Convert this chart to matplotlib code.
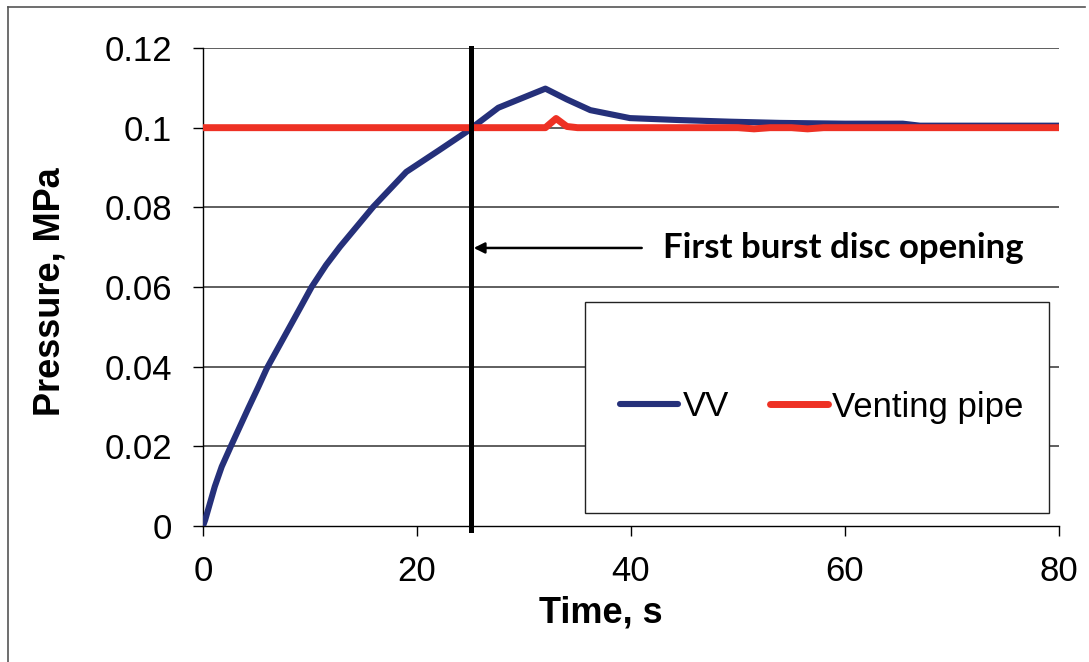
import matplotlib
matplotlib.use("Agg")
import matplotlib.pyplot as plt
from matplotlib.lines import Line2D
from matplotlib.patches import Rectangle

# ---- data ----
vv_time = [0, 0.2, 1.1, 1.75, 2.6, 3.3, 4.24, 5.17, 5.95, 7.2, 9.07, 10.15, 11.5,
           12.8, 15.9, 19.0, 22.1, 24.6, 27.6, 32.0, 34.0, 36.2, 39.9, 44.6, 49.3,
           53.9, 60.0, 65.4, 67.0, 80.0]
vv_pressure = [0.0, 0.0015, 0.0099, 0.0149, 0.020, 0.0241, 0.0296, 0.0349, 0.0395,
               0.0456, 0.0547, 0.0600, 0.0655, 0.0701, 0.0801, 0.0889, 0.0944, 0.0989,
               0.1050, 0.1098, 0.1071, 0.1044, 0.1024, 0.1019, 0.1015, 0.1012, 0.1010,
               0.1010, 0.1005, 0.1005]

pipe_time = [0, 32.0, 33.0, 34.0, 35.0, 50.0, 51.5, 53.0, 55.0, 56.5, 58.0, 80.0]
pipe_pressure = [0.1, 0.1, 0.1023, 0.1003, 0.1, 0.1, 0.0997, 0.1, 0.1, 0.0997, 0.1, 0.1]

burst_time = 25.0
x_ticks = [0, 20, 40, 60, 80]
y_ticks = [0, 0.02, 0.04, 0.06, 0.08, 0.1, 0.12]
y_tick_labels = ["0", "0.02", "0.04", "0.06", "0.08", "0.1", "0.12"]
annotation_text = "First burst disc opening"

W, H = 1089, 662
plt.rcParams['font.family'] = ['Liberation Sans', 'DejaVu Sans']
fig = plt.figure(figsize=(W / 100, H / 100), dpi=100)
ax = fig.add_axes([203 / W, 1 - 526 / H, (1059 - 203) / W, (526 - 48) / H])

blue = '#25307A'
red = '#EE3124'

l_vv, = ax.plot(vv_time, vv_pressure, color=blue, lw=4.4, solid_capstyle='round',
                solid_joinstyle='round', zorder=3, label='VV')
l_pipe, = ax.plot(pipe_time, pipe_pressure, color=red, lw=5.0, solid_capstyle='round',
                  solid_joinstyle='round', zorder=4, label='Venting pipe')
ax.axvline(burst_time, ymin=-0.008, ymax=1.0, color='black', lw=3.6, zorder=5,
           clip_on=False)

ax.set_xlim(0, 80)
ax.set_ylim(0, 0.12)
ax.set_xticks(x_ticks)
ax.set_xticklabels([str(v) for v in x_ticks])
ax.set_yticks(y_ticks)
ax.set_yticklabels(y_tick_labels)
ax.tick_params(axis='both', direction='out', length=7.2, width=1.0, labelsize=25,
               color='black')
ax.tick_params(axis='y', pad=15)
ax.tick_params(axis='x', pad=14)

for y in y_ticks[1:]:
    ax.axhline(y, color='#333333', lw=1.1, zorder=1)

for s in ['top', 'right']:
    ax.spines[s].set_visible(False)
for s in ['left', 'bottom']:
    ax.spines[s].set_linewidth(1.0)
    ax.spines[s].set_color('black')

ax.set_xlabel('Time, s', fontsize=26, fontweight='bold')
ax.set_ylabel('Pressure, MPa', fontsize=26, fontweight='bold')
ax.xaxis.set_label_coords(0.465, -0.145)
ax.yaxis.set_label_coords(-0.158, 0.49)

# annotation
ay = 0.0698
ax.annotate('', xy=(25.3, ay), xytext=(41.0, ay),
            arrowprops=dict(arrowstyle='-|>', color='black', lw=1.8,
                            mutation_scale=16, shrinkA=0, shrinkB=0), zorder=6)
ax.text(43.0, ay, annotation_text, ha='left', va='center', fontsize=25,
        fontweight='bold', family=['Lato', 'DejaVu Sans'], zorder=6)

# legend box
x0 = (585 - 203) / 856
x1 = (1049 - 203) / 856
y0 = (526 - 513) / 478
y1 = (526 - 302) / 478
ax.add_patch(Rectangle((x0, y0), x1 - x0, y1 - y0, transform=ax.transAxes,
                       facecolor='white', edgecolor='#222222', lw=1.0, zorder=7))
leg = ax.legend(handles=[l_vv, l_pipe], loc='center',
                bbox_to_anchor=((822 - 203) / 856, (526 - 407) / 478),
                ncol=2, frameon=False, fontsize=25, handlelength=1.67,
                handletextpad=0.12, columnspacing=1.2, borderpad=0)
leg.set_zorder(8)

# outer border (left and top edges)
fig.add_artist(Line2D([8 / W, 8 / W], [0, 1 - 7 / H], transform=fig.transFigure,
                      color='#555555', lw=1.2))
fig.add_artist(Line2D([8 / W, 1085 / W], [1 - 7 / H, 1 - 7 / H],
                      transform=fig.transFigure, color='#555555', lw=1.2))

fig.savefig('out.png', dpi=100)
